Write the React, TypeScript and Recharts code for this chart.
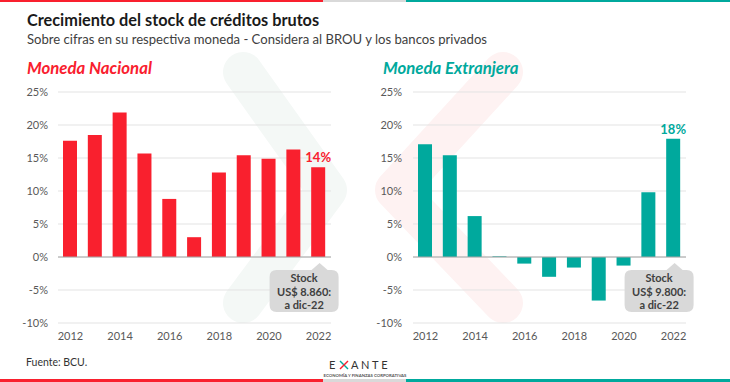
import React from 'react';
import { BarChart, Bar, XAxis, YAxis, CartesianGrid, ReferenceLine, ReferenceDot, LabelList } from 'recharts';

const years = ['2012', '2013', '2014', '2015', '2016', '2017', '2018', '2019', '2020', '2021', '2022'];
const nacional = [17.6, 18.5, 21.9, 15.7, 8.8, 3.0, 12.8, 15.4, 14.9, 16.3, 13.6];
const extranjera = [17.1, 15.4, 6.2, 0.1, -1.0, -3.0, -1.6, -6.6, -1.3, 9.8, 17.9];
const yTicks = [-10, -5, 0, 5, 10, 15, 20, 25];
const stockNacional = ['Stock', 'US$ 8.860:', 'a dic-22'];
const stockExtranjera = ['Stock', 'US$ 9.800:', 'a dic-22'];

const RED = '#F9202E';
const TEAL = '#00A99D';
const FONT = 'Lato, "Open Sans", sans-serif';

const buildData = (vals: number[]) =>
  years.map((y, i) => ({
    year: y,
    v: vals[i],
    lbl: i === vals.length - 1 ? `${Math.round(vals[i])}%` : undefined,
  }));

const Callout = ({ cx, cy, lines }: { cx: number; cy: number; lines: string[] }) => {
  const left = cx - 49;
  const right = cx + 20;
  const top = cy + 13;
  const bottom = cy + 55;
  const r = 7;
  const path = `M ${left + r} ${top} L ${cx - 7} ${top} L ${cx + 1} ${cy + 6} L ${cx + 9} ${top} L ${right - r} ${top} Q ${right} ${top} ${right} ${top + r} L ${right} ${bottom - r} Q ${right} ${bottom} ${right - r} ${bottom} L ${left + r} ${bottom} Q ${left} ${bottom} ${left} ${bottom - r} L ${left} ${top + r} Q ${left} ${top} ${left + r} ${top} Z`;
  const mid = (left + right) / 2;
  return (
    <g>
      <path d={path} fill="#D9D9D9" />
      {lines.map((t, i) => (
        <text key={i} x={mid} y={top + 12 + i * 13.5} textAnchor="middle" fontFamily={FONT} fontSize={11} fontWeight={700} fill="#404040">
          {t}
        </text>
      ))}
    </g>
  );
};

const Panel = ({ vals, color, yWidth, marginRight, tickMargin, stock }: { vals: number[]; color: string; yWidth: number; marginRight: number; tickMargin: number; stock: string[] }) => {
  const data = buildData(vals);
  return (
    <BarChart width={365} height={382} data={data} margin={{ top: 92, right: marginRight, bottom: 29, left: 0 }} barCategoryGap={0}>
      <CartesianGrid vertical={false} stroke="#E3E3E3" />
      <XAxis dataKey="year" axisLine={false} tickLine={false} interval={1} height={30} tickMargin={3} tick={{ fill: '#595959', fontSize: 11, fontFamily: FONT }} />
      <YAxis domain={[-10, 25]} ticks={yTicks} width={yWidth} axisLine={false} tickLine={false} tickMargin={tickMargin} tickFormatter={(v: number) => `${v}%`} tick={{ fill: '#595959', fontSize: 11, fontFamily: FONT }} />
      <ReferenceLine y={0} stroke="#A6A6A6" strokeWidth={1} />
      <Bar dataKey="v" fill={color} barSize={14} isAnimationActive={false}>
        <LabelList dataKey="lbl" position="top" offset={5} fill={color} fontSize={13} fontWeight={700} fontFamily={FONT} />
      </Bar>
      <ReferenceDot x="2022" y={0} r={0} ifOverflow="visible" shape={(p: any) => <Callout cx={p.cx} cy={p.cy} lines={stock} />} />
    </BarChart>
  );
};

export default function App() {
  return (
    <div style={{ position: 'fixed', left: 0, top: 0, width: 730, height: 382, background: '#fff', overflow: 'hidden', fontFamily: FONT }}>
      <svg width={730} height={382} style={{ position: 'absolute', left: 0, top: 0 }}>
        <polyline points="243,72 327,190 243,303" fill="none" stroke="#F4F8F6" strokeWidth={40} strokeLinecap="round" strokeLinejoin="round" />
        <polyline points="503,72 395,190 503,303" fill="none" stroke="#FEF2F2" strokeWidth={40} strokeLinecap="round" strokeLinejoin="round" />
      </svg>
      <div style={{ position: 'absolute', left: 0, top: 0 }}>
        <Panel vals={nacional} color={RED} yWidth={58} marginRight={34} tickMargin={4} stock={stockNacional} />
      </div>
      <div style={{ position: 'absolute', left: 365, top: 0 }}>
        <Panel vals={extranjera} color={TEAL} yWidth={48} marginRight={44} tickMargin={5} stock={stockExtranjera} />
      </div>
      <svg width={730} height={382} style={{ position: 'absolute', left: 0, top: 0, pointerEvents: 'none' }}>
        <rect x={0} y={0} width={323} height={2} fill={RED} />
        <rect x={323} y={0} width={83} height={2} fill="#D9D9D9" />
        <rect x={406} y={0} width={324} height={2} fill={TEAL} />
        <rect x={0} y={379} width={323} height={3} fill={RED} />
        <rect x={323} y={379} width={83} height={3} fill="#D9D9D9" />
        <rect x={406} y={379} width={324} height={3} fill={TEAL} />
        <text x={27} y={26} fontFamily={FONT} fontSize={16.3} fontWeight={700} fill="#1a1a1a">Crecimiento del stock de créditos brutos</text>
        <text x={27} y={44} fontFamily={FONT} fontSize={13.1} fill="#404040">Sobre cifras en su respectiva moneda - Considera al BROU y los bancos privados</text>
        <text x={27} y={74} fontFamily={FONT} fontSize={16.8} fontWeight={700} fontStyle="italic" fill={RED}>Moneda Nacional</text>
        <text x={383} y={74} fontFamily={FONT} fontSize={16.8} fontWeight={700} fontStyle="italic" fill={TEAL}>Moneda Extranjera</text>
        <text x={26} y={366} fontFamily={FONT} fontSize={10.5} fill="#333">Fuente: BCU.</text>
        <text x={329} y={369} fontFamily={FONT} fontSize={11} letterSpacing={2.4} fill="#333">E</text>
        <line x1={340} y1={361} x2={348} y2={369} stroke={TEAL} strokeWidth={1.5} />
        <line x1={348} y1={361} x2={340} y2={369} stroke={RED} strokeWidth={1.5} />
        <text x={351} y={369} fontFamily={FONT} fontSize={11} letterSpacing={2.6} fill="#333">ANTE</text>
        <text x={365} y={377} textAnchor="middle" fontFamily={FONT} fontSize={4.3} fontWeight={700} fill="#555">ECONOMÍA Y FINANZAS CORPORATIVAS</text>
      </svg>
    </div>
  );
}
